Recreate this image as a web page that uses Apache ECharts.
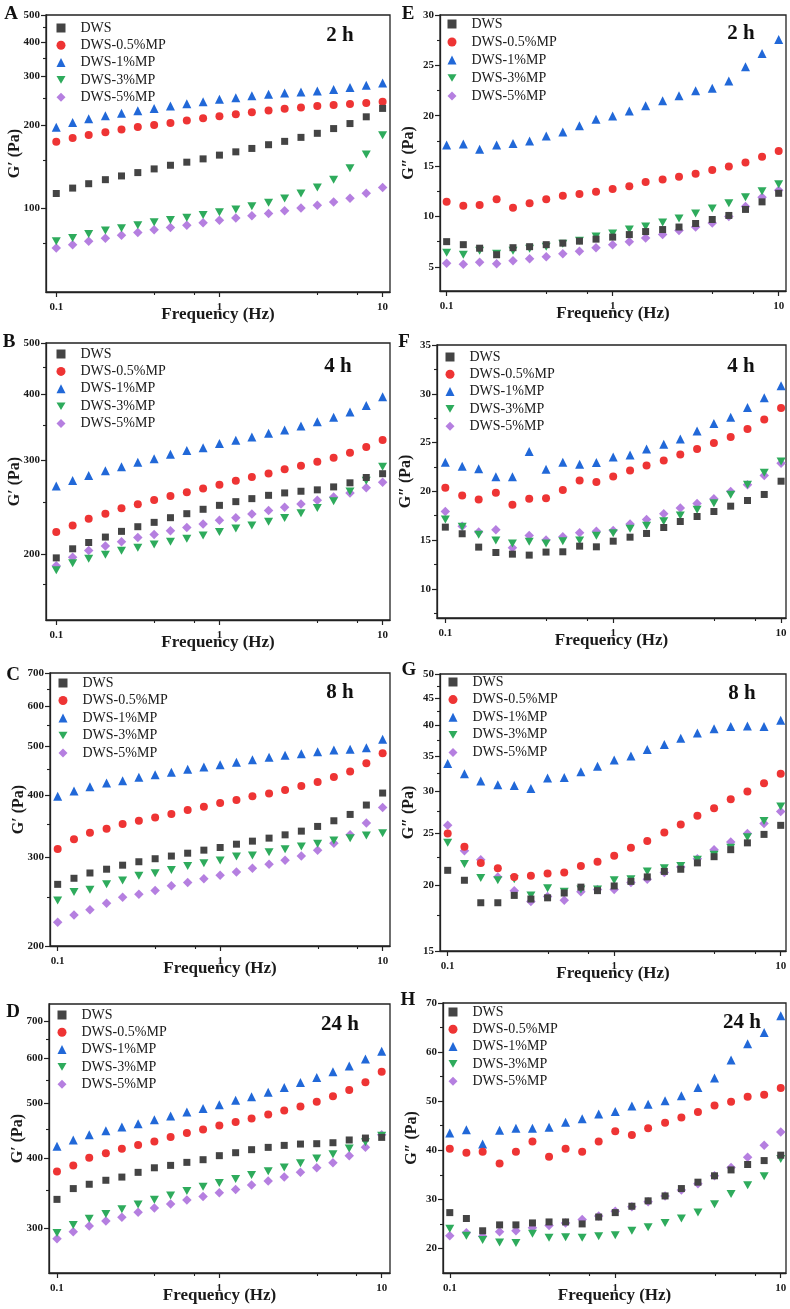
<!DOCTYPE html>
<html><head><meta charset="utf-8">
<script src="https://cdn.jsdelivr.net/npm/echarts@6/dist/echarts.min.js"></script>
<style>html,body{margin:0;padding:0;background:#fff}#c{width:790px;height:1309px}</style>
</head><body><div id="c"></div><script>
// ---------- data ----------
const freq = [0.1,0.126,0.158,0.2,0.251,0.316,0.398,0.501,0.631,0.794,1,1.26,1.58,2,2.51,3.16,3.98,5.01,6.31,7.94,10];
const seriesNames = ['DWS','DWS-0.5%MP','DWS-1%MP','DWS-3%MP','DWS-5%MP'];
const xTickLabels = [0.1,1,10];
const xMinorTicks = [0.4,0.7,4,7];

// A: G' 2 h
const A_dws  = [113.4,118.6,123.0,127.2,131.2,134.9,139.1,143.4,147.1,151.2,156.0,160.3,164.9,170.1,174.9,180.8,187.0,194.5,202.8,214.5,230.0];
const A_mp05 = [174.4,179.8,184.4,188.6,192.9,197.2,200.5,203.9,208.0,212.1,215.7,219.3,223.0,226.1,229.3,231.9,234.5,236.5,238.5,240.5,243.2];
const A_mp1  = [196.7,204.5,210.9,216.3,221.1,225.5,230.0,234.5,239.1,243.2,248.0,251.5,255.7,258.6,261.5,263.7,265.9,268.9,273.5,278.9,284.4];
const A_mp3  = [76.3,78.4,80.9,83.4,85.0,87.0,89.2,91.0,92.7,94.8,97.0,99.2,102.0,105.1,108.7,113.4,119.2,127.2,139.8,156.8,183.9];
const A_mp5  = [72.1,74.1,76.3,78.2,80.2,82.0,83.9,85.5,87.0,88.9,90.7,92.5,94.3,96.1,98.3,100.6,102.8,105.7,109.1,113.7,119.2];
const A_yTicks = [100,200,300,400,500];
const A_yMinor = [75,150,250,350,450];

// B: G' 4 h
const B_dws  = [196.5,204.4,210.1,215.1,220.5,225.0,229.3,234.0,238.1,242.7,246.9,250.9,254.2,257.9,260.6,262.5,264.1,267.5,272.3,278.7,283.3];
const B_mp05 = [219.8,226.3,232.9,238.1,243.7,248.0,252.8,257.2,261.4,265.6,269.9,274.7,279.2,283.7,288.7,293.3,298.4,303.7,310.4,318.1,328.0];
const B_mp1  = [268.7,275.1,281.1,286.9,292.0,297.6,302.4,308.2,313.2,317.3,322.9,327.6,332.4,337.7,342.7,348.7,354.9,362.1,370.6,381.0,395.7];
const B_mp3  = [186.3,192.0,195.7,199.1,202.6,205.3,208.3,210.7,213.5,216.6,219.8,223.3,226.3,229.9,233.7,238.5,244.0,251.3,262.1,274.7,292.0];
const B_mp5  = [189.8,197.1,202.9,206.8,210.7,214.7,217.6,221.1,224.3,227.6,231.3,234.0,237.8,241.3,244.8,248.4,252.4,256.1,260.6,266.4,273.1];
const B_yTicks = [200,300,400,500];
const B_yMinor = [175,250,350,450];

// C: G' 8 h
const C_dws  = [265.4,272.9,279.6,284.5,289.8,294.4,298.5,302.2,306.2,310.5,314.3,319.1,323.6,328.1,333.1,338.8,346.2,355.3,365.8,381.9,403.5];
const C_mp05 = [312.3,326.5,336.2,342.4,349.9,355.3,360.8,366.4,373.2,378.9,385.4,390.8,397.4,402.9,409.1,416.7,424.4,434.3,445.7,462.4,484.2];
const C_mp1  = [397.4,407.2,415.4,422.4,427.0,433.6,438.9,443.7,449.9,454.7,459.6,464.5,470.3,475.3,479.7,483.4,487.8,491.6,493.1,496.9,516.2];
const C_mp3  = [246.4,256.1,258.9,265.4,270.0,276.2,279.2,283.5,288.8,292.4,296.0,301.5,302.9,307.6,311.9,315.7,319.6,324.5,328.1,332.1,335.7];
const C_mp5  = [223.0,230.6,236.3,243.3,250.1,253.6,258.0,263.7,267.8,272.3,276.7,281.0,285.8,291.1,296.5,302.4,310.5,320.6,333.1,351.5,377.4];
const C_yTicks = [200,300,400,500,600,700];
const C_yMinor = [250,350,450,550,650];

// D: G' 24 h
const D_dws  = [337.7,352.9,359.2,365.1,369.9,377.1,384.2,388.0,392.8,397.1,403.7,408.6,413.7,417.6,421.0,423.3,423.9,425.6,430.4,433.8,435.0];
const D_mp05 = [378.6,388.0,400.3,407.5,415.3,421.6,427.9,435.6,442.7,449.3,456.7,463.0,470.0,477.7,485.6,493.5,503.0,514.7,528.1,544.9,568.5];
const D_mp1  = [419.5,430.4,439.8,447.0,453.8,460.0,467.5,474.6,482.4,489.6,497.0,506.4,513.4,523.3,533.2,544.2,555.5,568.5,582.5,599.3,618.1];
const D_mp3  = [294.4,304.1,312.0,318.0,324.5,330.7,337.2,343.2,349.5,355.7,361.1,367.0,373.0,378.7,384.6,391.4,398.9,406.0,415.5,426.5,438.0];
const D_mp5  = [287.6,295.9,302.8,309.0,313.9,320.3,326.0,331.4,336.7,341.8,346.9,351.6,358.0,364.1,369.9,377.1,384.2,392.3,403.7,417.6,439.8];
const D_yTicks = [300,400,500,600,700];
const D_yMinor = [350,450,550,650];

// E: G'' 2 h
const E_dws  = [7.5,7.2,6.85,6.2,6.9,7.0,7.2,7.35,7.55,7.75,7.95,8.2,8.5,8.7,8.95,9.3,9.7,10.1,10.7,11.45,12.3];
const E_mp05 = [11.46,11.06,11.13,11.72,10.86,11.32,11.72,12.05,12.22,12.45,12.72,13.01,13.41,13.68,13.94,14.24,14.6,14.97,15.36,15.93,16.49];
const E_mp1  = [17.09,17.19,16.66,17.09,17.25,17.48,17.98,18.38,19.0,19.64,19.97,20.46,20.99,21.49,21.99,22.48,22.72,23.44,24.87,26.19,27.58];
const E_mp3  = [6.4,6.2,6.6,6.3,6.6,6.8,7.0,7.3,7.6,8.0,8.3,8.7,9.0,9.4,9.8,10.3,10.8,11.3,11.9,12.5,13.2];
const E_mp5  = [5.35,5.25,5.45,5.3,5.6,5.8,6.0,6.3,6.55,6.9,7.2,7.5,7.85,8.2,8.6,8.95,9.35,10.0,11.0,11.9,12.6];
const E_yTicks = [5,10,15,20,25,30];
const E_yMinor = [7.5,12.5,17.5,22.5,27.5];

// F: G'' 4 h
const F_dws  = [16.32,15.64,14.27,13.72,13.55,13.45,13.76,13.79,14.37,14.3,14.88,15.29,15.67,16.28,16.9,17.41,17.92,18.47,19.05,19.67,21.03];
const F_mp05 = [20.35,19.56,19.15,19.84,18.61,19.22,19.29,20.14,21.1,20.96,21.51,22.12,22.64,23.15,23.76,24.34,24.96,25.57,26.39,27.35,28.55];
const F_mp1  = [22.98,22.57,22.3,21.48,21.48,24.07,22.26,22.98,22.77,22.94,23.52,23.73,24.34,24.82,25.37,26.19,26.94,27.59,28.58,29.6,30.83];
const F_mp3  = [17.1,16.35,15.53,14.95,14.64,14.82,14.64,14.88,14.95,15.43,15.7,16.15,16.45,16.93,17.51,18.09,18.78,19.63,20.66,21.89,23.05];
const F_mp5  = [17.92,16.42,15.81,16.05,14.2,15.46,14.99,15.33,15.74,15.91,15.98,16.63,17.1,17.68,18.27,18.74,19.22,19.97,20.66,21.61,22.88];
const F_yTicks = [10,15,20,25,30,35];
const F_yMinor = [7.5,12.5,17.5,22.5,27.5,32.5];

// G: G'' 8 h
const G_dws  = [21.3,20.4,18.5,18.5,19.1,18.8,18.9,19.3,19.8,19.5,19.9,20.3,20.7,21.2,21.4,22.0,22.6,23.3,24.0,24.9,25.9];
const G_mp05 = [25.0,23.6,22.0,21.5,20.7,20.8,21.0,21.1,21.7,22.1,22.7,23.5,24.2,25.1,26.0,27.0,27.9,29.0,30.0,31.1,32.4];
const G_mp1  = [33.9,32.4,31.4,30.9,30.8,30.4,31.8,31.9,32.7,33.5,34.4,35.0,36.0,36.8,37.8,38.7,39.4,39.8,39.9,39.8,40.9];
const G_mp3  = [24.0,21.9,20.6,20.4,20.5,19.1,19.7,19.4,19.6,19.6,20.4,20.5,21.2,21.5,21.7,22.3,22.8,23.5,24.6,26.4,28.1];
const G_mp5  = [25.9,23.2,22.3,20.7,19.5,18.6,19.0,18.7,19.4,19.6,19.6,20.2,20.5,21.1,21.6,22.4,23.3,24.1,25.0,26.1,27.5];
const G_yTicks = [15,20,25,30,35,40,45,50];
const G_yMinor = [17.5,22.5,27.5,32.5,37.5,42.5,47.5];

// H: G'' 24 h
const H_dws  = [27.3,26.1,23.6,24.8,24.8,25.2,25.4,25.4,25.0,26.4,27.3,28.6,29.7,30.7,32.2,33.5,34.8,36.0,37.1,37.9,39.0];
const H_mp05 = [40.3,39.5,39.7,37.3,39.7,41.8,38.7,40.3,39.7,41.8,43.9,43.1,44.5,45.6,46.7,47.8,49.1,49.9,50.9,51.3,52.7];
const H_mp1  = [43.5,44.2,41.3,44.1,44.5,44.5,44.7,45.7,46.4,47.4,47.9,49.0,49.4,50.1,51.1,52.8,54.7,58.4,61.7,64.0,67.4];
const H_mp3  = [24.0,22.6,21.7,21.2,21.1,23.0,22.2,22.3,22.2,22.5,22.7,23.6,24.3,25.2,26.1,27.3,29.0,31.1,32.9,34.7,38.2];
const H_mp5  = [22.6,23.2,22.5,23.4,23.6,24.2,24.7,25.2,25.9,26.6,27.6,28.5,29.5,30.7,31.9,33.2,34.8,36.5,38.6,41.0,43.7];
const H_yTicks = [20,30,40,50,60,70];
const H_yMinor = [25,35,45,55,65];

// ---------- layout / style ----------
const SERIF = '"Liberation Serif","Times New Roman",serif';
const INK = '#1a1a1a';
const styles = [
  {symbol:'rect', size:7, color:'#444444'},
  {symbol:'circle', size:8, color:'#ee3434'},
  {symbol:'triangle', size:9, color:'#2168d8'},
  {symbol:'path://M0,0L20,0L10,17Z', size:[9,8], color:'#2eab5c'},
  {symbol:'diamond', size:9.5, color:'#b57fe0'}
];
const panels = [
  {letter:'A', time:'2 h',  yName:'G\u2032 (Pa)', series:[A_dws,A_mp05,A_mp1,A_mp3,A_mp5], yType:'log', yMin:50, yMax:500, yTicks:A_yTicks, yMinor:A_yMinor,
   grid:[46,15,344,277], xr:[0.0865,11.1], leg:[15,13,17.3], timePos:[340,36], letterPos:[11,14]},
  {letter:'E', time:'2 h',  yName:'G\u2033 (Pa)', series:[E_dws,E_mp05,E_mp1,E_mp3,E_mp5], yType:'value', yMin:2.6, yMax:30, yTicks:E_yTicks, yMinor:E_yMinor,
   grid:[440,15,346,276], xr:[0.0912,11.07], leg:[12,9,18], timePos:[741,34], letterPos:[408,14]},
  {letter:'B', time:'4 h',  yName:'G\u2032 (Pa)', series:[B_dws,B_mp05,B_mp1,B_mp3,B_mp5], yType:'log', yMin:150, yMax:500, yTicks:B_yTicks, yMinor:B_yMinor,
   grid:[46,343,344,277], xr:[0.0865,11.1], leg:[15,11,17.4], timePos:[338,367], letterPos:[9,342]},
  {letter:'F', time:'4 h',  yName:'G\u2033 (Pa)', series:[F_dws,F_mp05,F_mp1,F_mp3,F_mp5], yType:'value', yMin:7, yMax:35, yTicks:F_yTicks, yMinor:F_yMinor,
   grid:[437,345,349,273], xr:[0.0892,10.7], leg:[13,12,17.3], timePos:[741,367], letterPos:[404,342]},
  {letter:'C', time:'8 h',  yName:'G\u2032 (Pa)', series:[C_dws,C_mp05,C_mp1,C_mp3,C_mp5], yType:'log', yMin:200, yMax:700, yTicks:C_yTicks, yMinor:C_yMinor,
   grid:[50,673,340,273], xr:[0.0897,11.1], leg:[13,10,17.5], timePos:[340,693], letterPos:[13,675]},
  {letter:'G', time:'8 h',  yName:'G\u2033 (Pa)', series:[G_dws,G_mp05,G_mp1,G_mp3,G_mp5], yType:'log', yMin:15, yMax:50, yTicks:G_yTicks, yMinor:G_yMinor,
   grid:[440,674,346,277], xr:[0.0899,10.76], leg:[13,8,17.6], timePos:[742,694], letterPos:[409,670]},
  {letter:'D', time:'24 h', yName:'G\u2032 (Pa)', series:[D_dws,D_mp05,D_mp1,D_mp3,D_mp5], yType:'log', yMin:250, yMax:750, yTicks:D_yTicks, yMinor:D_yMinor,
   grid:[49,1004,341,269], xr:[0.0893,11.25], leg:[13,11,17.3], timePos:[340,1025], letterPos:[13,1012]},
  {letter:'H', time:'24 h', yName:'G\u2033 (Pa)', series:[H_dws,H_mp05,H_mp1,H_mp3,H_mp5], yType:'value', yMin:15, yMax:70, yTicks:H_yTicks, yMinor:H_yMinor,
   grid:[443,1003,343,270], xr:[0.091,10.76], leg:[10,9,17.3], timePos:[742,1023], letterPos:[408,1000]}
];

const fmt = v => String(+(+v).toPrecision(4));
const grids = [], xAxes = [], yAxes = [], series = [], legends = [], graphics = [];
panels.forEach((p, i) => {
  const [gl, gt, gw, gh] = p.grid;
  grids.push({left:gl, top:gt, width:gw, height:gh, show:true, borderColor:'#222', borderWidth:1.3, backgroundColor:'transparent', containLabel:false});
  xAxes.push({type:'log', logBase:10, gridIndex:i, position:'bottom', min:p.xr[0], max:p.xr[1],
    axisLine:{show:true, onZero:false, lineStyle:{color:'#222', width:1.3}},
    axisTick:{show:true, inside:false, length:5, customValues:xTickLabels, lineStyle:{color:'#222', width:1.2}},
    axisLabel:{show:true, customValues:xTickLabels, formatter:fmt, margin:10, fontFamily:SERIF, fontWeight:'bold', fontSize:11, color:INK},
    splitLine:{show:false}, minorTick:{show:false},
    name:'Frequency (Hz)', nameLocation:'middle', nameGap:14, nameMoveOverlap:false,
    nameTextStyle:{fontFamily:SERIF, fontWeight:'bold', fontSize:17, color:INK}});
  xAxes.push({type:'log', logBase:10, gridIndex:i, position:'bottom', offset:0, min:p.xr[0], max:p.xr[1],
    axisLine:{show:false, onZero:false},
    axisTick:{show:true, inside:false, length:3, customValues:xMinorTicks, lineStyle:{color:'#222', width:1.1}},
    axisLabel:{show:false}, splitLine:{show:false}});
  const yBase = p.yType === 'log' ? {type:'log', logBase:10} : {type:'value'};
  yAxes.push(Object.assign({}, yBase, {gridIndex:i, position:'left', min:p.yMin, max:p.yMax,
    axisLine:{show:true, onZero:false, lineStyle:{color:'#222', width:1.3}},
    axisTick:{show:true, inside:false, length:5, customValues:p.yTicks, lineStyle:{color:'#222', width:1.2}},
    axisLabel:{show:true, customValues:p.yTicks, formatter:fmt, margin:6, fontFamily:SERIF, fontWeight:'bold', fontSize:11, color:INK},
    splitLine:{show:false}, minorTick:{show:false},
    name:p.yName, nameLocation:'middle', nameRotate:90, nameGap:23, nameMoveOverlap:false,
    nameTextStyle:{fontFamily:SERIF, fontWeight:'bold', fontSize:16, color:INK}}));
  yAxes.push(Object.assign({}, yBase, {gridIndex:i, position:'left', offset:0, min:p.yMin, max:p.yMax,
    axisLine:{show:false, onZero:false},
    axisTick:{show:true, inside:false, length:3, customValues:p.yMinor, lineStyle:{color:'#222', width:1.1}},
    axisLabel:{show:false}, splitLine:{show:false}}));
  p.series.forEach((vals, k) => {
    const s = styles[k];
    series.push({type:'scatter', name:seriesNames[k], xAxisIndex:2*i, yAxisIndex:2*i,
      symbol:s.symbol, symbolSize:s.size,
      itemStyle:{color:s.color, opacity:1}, z:10 - k,
      data:freq.map((f, j) => [f, vals[j]])});
  });
  const [lx, ly, pitch] = p.leg;
  legends.push({data:seriesNames, orient:'vertical', left:gl + lx - 4.5, top:gt + ly - 7,
    itemWidth:9, itemHeight:9, itemGap:pitch - 14, selectedMode:false, padding:0,
    textStyle:{fontFamily:SERIF, fontSize:14, color:INK, lineHeight:14, padding:[0,0,0,10]}});
  graphics.push({type:'text', x:p.timePos[0], y:p.timePos[1],
    style:{text:p.time, font:'bold 21px ' + SERIF, fill:'#111', textAlign:'center', textVerticalAlign:'middle', align:'center', verticalAlign:'middle'}});
  graphics.push({type:'text', x:p.letterPos[0], y:p.letterPos[1],
    style:{text:p.letter, font:'bold 19px ' + SERIF, fill:'#111', textAlign:'center', textVerticalAlign:'middle', align:'center', verticalAlign:'middle'}});
});

const chart = echarts.init(document.getElementById('c'), null, {renderer:'canvas', width:790, height:1309});
chart.setOption({
  backgroundColor:'#ffffff',
  animation:false,
  grid:grids, xAxis:xAxes, yAxis:yAxes, series:series, legend:legends,
  graphic:{elements:graphics}
});
</script></body></html>
